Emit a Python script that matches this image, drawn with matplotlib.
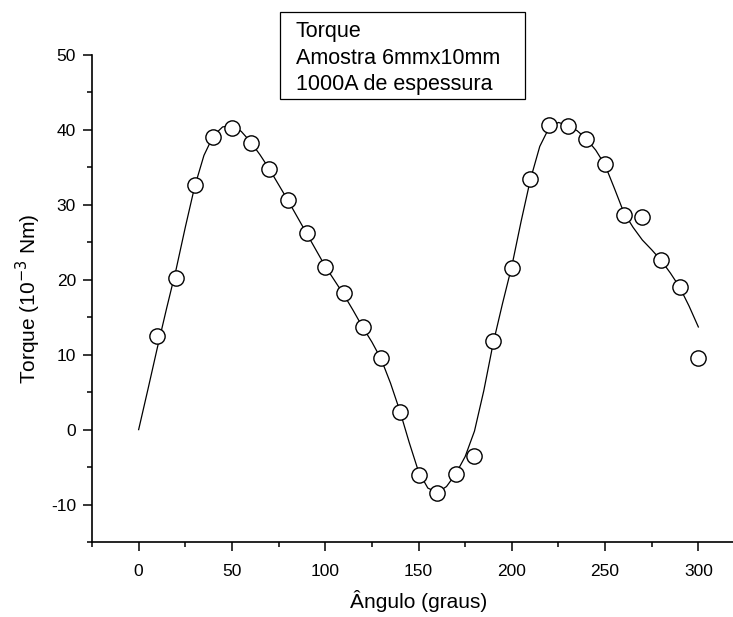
import matplotlib
matplotlib.use("Agg")
import matplotlib.pyplot as plt
from matplotlib.patches import Rectangle
from matplotlib.ticker import MultipleLocator

plt.rcParams["font.family"] = ["Liberation Sans", "DejaVu Sans"]
plt.rcParams["axes.unicode_minus"] = False

# measured torque points
angle = [10, 20, 30, 40, 50, 60, 70, 80, 90, 100, 110, 120, 130, 140, 150,
         160, 170, 180, 190, 200, 210, 220, 230, 240, 250, 260, 270, 280, 290, 300]
torque = [12.5, 20.2, 32.6, 39.0, 40.2, 38.3, 34.8, 30.6, 26.3, 21.7, 18.3, 13.7, 9.5, 2.4, -6.0,
          -8.5, -5.9, -3.5, 11.8, 21.6, 33.5, 40.6, 40.5, 38.8, 35.4, 28.6, 28.4, 22.7, 19.0, 9.5]

# fitted curve, every 5 degrees
fit_angle = list(range(0, 305, 5))
fit_torque = [0.0, 5.4, 10.9, 16.2, 21.3, 27.0, 32.4, 36.6, 39.2, 40.4,
              40.6, 39.8, 38.4, 36.7, 34.8, 32.7, 30.6, 28.4, 26.2, 24.0,
              21.8, 19.9, 18.0, 15.9, 13.7, 11.7, 9.4, 6.2, 2.5, -1.7,
              -5.6, -7.8, -8.4, -7.6, -5.9, -3.6, -0.2, 5.2, 11.5, 16.8,
              21.8, 27.8, 33.4, 37.8, 40.3, 41.0, 40.6, 39.9, 38.8, 37.3,
              35.3, 32.2, 29.0, 27.0, 25.3, 24.0, 22.6, 20.9, 19.0, 16.5,
              13.7]

legend_lines = ["Torque", "Amostra 6mmx10mm", "1000A de espessura"]

W, H = 733, 617
fig = plt.figure(figsize=(W / 100, H / 100), dpi=100)
# axes: left spine at x=92px, x=325 falls just past the right edge
ax = fig.add_axes([92 / W, 1 - 542 / H, (745 - 92) / W, (542 - 55) / H])

ax.plot(fit_angle, fit_torque, color="black", lw=0.9, zorder=2)
ax.plot(angle, torque, "o", ms=11, mfc="white", mec="black", mew=1.0,
        ls="none", zorder=3, clip_on=False)

ax.set_xlim(-25, 325)
ax.set_ylim(-15, 50)
ax.xaxis.set_minor_locator(MultipleLocator(25))
ax.yaxis.set_major_locator(MultipleLocator(10))
ax.yaxis.set_minor_locator(MultipleLocator(5))
ax.set_xticks([0, 50, 100, 150, 200, 250, 300])

for s in ["top", "right"]:
    ax.spines[s].set_visible(False)
for s in ["left", "bottom"]:
    ax.spines[s].set_linewidth(1.2)

ax.tick_params(which="major", direction="out", length=6.5, width=1.1, labelsize=12.5, pad=5)
ax.tick_params(which="minor", direction="out", length=3.5, width=1.1)
ax.tick_params(axis="x", which="major", pad=9)

ax.set_xlabel("Ângulo (graus)", fontsize=15, labelpad=8)
ax.set_ylabel("Torque (10$^{-3}$ Nm)", fontsize=15, labelpad=6)

# text box at the top
fig.patches.append(Rectangle((280 / W, 1 - 99 / H), 245 / W, 87 / H,
                             transform=fig.transFigure, fill=False,
                             edgecolor="black", lw=0.9))
for i, line in enumerate(legend_lines):
    fig.text(296 / W, 1 - (37 + i * 26.5) / H, line, fontsize=15.5,
             ha="left", va="baseline")

fig.savefig("out.png", dpi=100)
